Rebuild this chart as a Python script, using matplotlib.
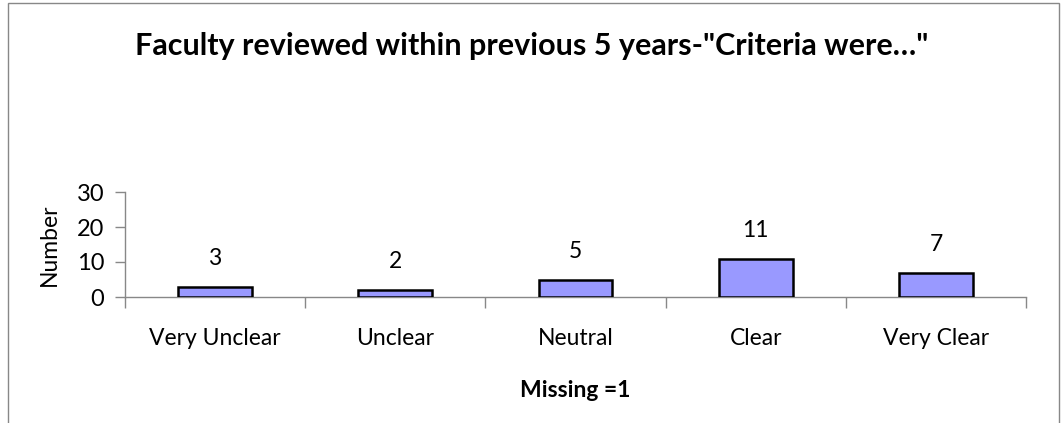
import matplotlib
matplotlib.use("Agg")
import matplotlib.pyplot as plt
from matplotlib.patches import Rectangle

categories = ["Very Unclear", "Unclear", "Neutral", "Clear", "Very Clear"]
values = [3, 2, 5, 11, 7]
yticks = [0, 10, 20, 30]
title = 'Faculty reviewed within previous 5 years-"Criteria were…"'
xlabel = "Missing =1"
ylabel = "Number"

plt.rcParams['font.family'] = ['Lato', 'DejaVu Sans']

W, H = 1063, 423
fig = plt.figure(figsize=(W / 100, H / 100), dpi=100)
fig.patches.append(Rectangle((8 / W, -0.1), (1059 - 8) / W, 1.1 - 3 / H,
                             transform=fig.transFigure, fill=False,
                             edgecolor='#888888', linewidth=1))

ax = fig.add_axes([125 / W, 1 - 297 / H, (1026 - 125) / W, (297 - 192) / H])
x = list(range(len(categories)))
bars = ax.bar(x, values, width=0.41, color='#9999FF', edgecolor='black', linewidth=1.8, zorder=3)
for xi, v in zip(x, values):
    ax.annotate(str(v), (xi, v), xytext=(0, 15.5), textcoords='offset points',
                ha='center', va='baseline', fontsize=16.5)

ax.set_xlim(-0.5, len(categories) - 0.5)
ax.set_ylim(0, 30)
ax.set_yticks(yticks)
ax.set_yticklabels([str(t) for t in yticks], fontsize=17)
ax.set_xticks(x)
ax.set_xticklabels(categories, fontsize=16.5)
ax.tick_params(axis='x', length=0, pad=22.5)
ax.set_xticks([i - 0.5 for i in range(len(categories) + 1)], minor=True)
ax.tick_params(axis='x', which='minor', length=8, color='#888888', width=1, direction='out')
ax.tick_params(axis='y', length=7, color='#888888', width=1, direction='out', pad=8)
for s in ['top', 'right']:
    ax.spines[s].set_visible(False)
for s in ['left', 'bottom']:
    ax.spines[s].set_color('#888888')
    ax.spines[s].set_linewidth(1)
ax.patch.set_alpha(0)

ax.set_ylabel(ylabel, fontsize=16.5, labelpad=12)
ax.set_xlabel(xlabel, fontsize=16.5, fontweight='bold', labelpad=22)
fig.text(0.5, 1 - 46 / H, title, ha='center', va='center', fontsize=22, fontweight='bold')

fig.savefig("out.png", dpi=100)
